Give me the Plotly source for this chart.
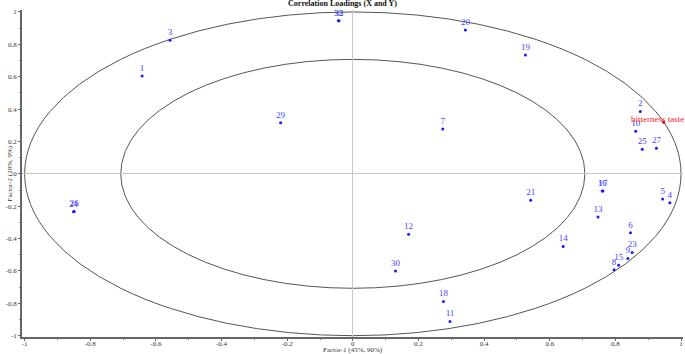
import numpy as np
import plotly.graph_objects as go

labels = ["1", "2", "3", "4", "5", "6", "7", "8", "9", "10", "11", "12", "13", "14", "15",
          "16", "17", "18", "19", "20", "21", "23", "24", "25", "26", "27", "29", "30", "32", "33"]
factor1 = [-0.642, 0.876, -0.557, 0.966, 0.944, 0.846, 0.274, 0.796, 0.838, 0.862, 0.296, 0.170, 0.747, 0.641, 0.810,
           0.760, 0.762, 0.276, 0.526, 0.343, 0.542, 0.851, -0.851, 0.882, -0.849, 0.925, -0.220, 0.130, -0.044, -0.042]
factor2 = [0.605, 0.385, 0.825, -0.178, -0.156, -0.364, 0.277, -0.593, -0.523, 0.263, -0.912, -0.373, -0.267, -0.449, -0.565,
           -0.106, -0.106, -0.788, 0.734, 0.889, -0.164, -0.486, -0.234, 0.152, -0.232, 0.158, 0.315, -0.600, 0.946, 0.946]

y_label = ["bitterness taste"]
y_factor1 = [0.947]
y_factor2 = [0.319]

radii = [1.0, np.sqrt(0.5)]

x_ticks = [-1, -0.8, -0.6, -0.4, -0.2, 0, 0.2, 0.4, 0.6, 0.8, 1]
y_ticks = [-1, -0.8, -0.6, -0.4, -0.2, 0, 0.2, 0.4, 0.6, 0.8, 1]

x_title = "Factor-1 (45%, 90%)"
y_title = "Factor-2 (28%, 9%)"

FONT = "Liberation Serif"

fig = go.Figure()
for r in radii:
    fig.add_shape(type="circle", xref="x", yref="y", x0=-r, x1=r, y0=-r, y1=r,
                  line=dict(color="#555555", width=1), layer="below")

fig.add_trace(go.Scatter(
    x=factor1, y=factor2, mode="markers+text", text=labels, textposition="top center",
    marker=dict(color="#1a1aff", size=3), textfont=dict(family=FONT, size=9, color="#4444ff"),
    hoverinfo="skip", showlegend=False))

fig.add_trace(go.Scatter(
    x=y_factor1, y=y_factor2, mode="markers",
    marker=dict(color="#e00000", size=3), hoverinfo="skip", showlegend=False))
for xv, yv, t in zip(y_factor1, y_factor2, y_label):
    fig.add_annotation(x=xv, y=yv, text=t, showarrow=False, xshift=-6, yshift=3,
                       font=dict(family=FONT, size=9, color="#ff2020"))

fig.add_annotation(text=y_title, xref="paper", yref="paper", x=0, y=0.5,
                   xshift=-19, textangle=-90, showarrow=False,
                   font=dict(family=FONT, size=7, color="#333333"))
fig.add_annotation(text=x_title, xref="paper", yref="paper", x=0.5, y=0,
                   yshift=-13, showarrow=False, yanchor="middle",
                   font=dict(family=FONT, size=7, color="#333333"))

fig.update_layout(
    width=685, height=354,
    margin=dict(l=22, r=2, t=10, b=17),
    paper_bgcolor="white", plot_bgcolor="white",
    title=dict(text="<b>Correlation Loadings (X and Y)</b>", x=0.5, xanchor="center", y=1.0, yanchor="top",
               pad=dict(t=0, b=0), font=dict(family=FONT, size=8, color="#111111")),
    font=dict(family=FONT, size=8, color="#333333"),
)
fig.update_xaxes(range=[-1.008, 1.006], tickvals=x_ticks, ticktext=[f"{v:g}" for v in x_ticks],
                 automargin=False,
                 showgrid=False, zeroline=True, zerolinecolor="#c8c8c8", zerolinewidth=1,
                 showline=True, linecolor="#666666", linewidth=1.5, mirror=False,
                 ticks="outside", ticklen=2, tickcolor="#666666", ticklabelstandoff=-3,
                 tickfont=dict(family=FONT, size=7, color="#333333"),
                 minor=dict(dtick=0.1, ticks="outside", ticklen=1, tickcolor="#888888", showgrid=False))
fig.update_yaxes(range=[-1.008, 1.012], tickvals=y_ticks, ticktext=[f"{v:g}" for v in y_ticks],
                 automargin=False,
                 showgrid=False, zeroline=True, zerolinecolor="#c8c8c8", zerolinewidth=1,
                 showline=True, linecolor="#666666", linewidth=1.5, mirror=False,
                 ticks="outside", ticklen=2, tickcolor="#666666",
                 tickfont=dict(family=FONT, size=7, color="#333333"),
                 minor=dict(dtick=0.1, ticks="outside", ticklen=1, tickcolor="#888888", showgrid=False))

fig.write_html("out.html", config={"displayModeBar": False},
               post_script="document.body.style.margin='0';document.body.style.overflow='hidden';")
